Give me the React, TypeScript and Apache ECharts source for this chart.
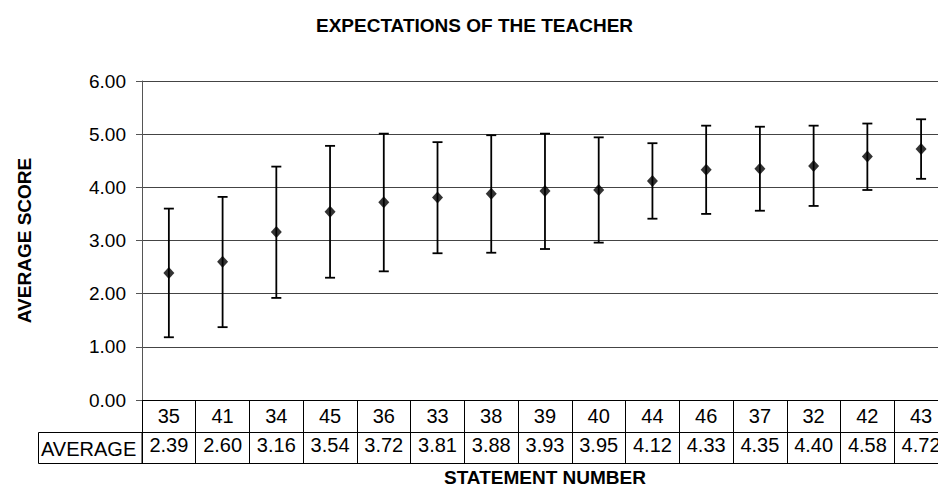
import React, { useEffect, useRef } from "react";
import * as echarts from "echarts";

const title = "EXPECTATIONS OF THE TEACHER";
const yTitle = "AVERAGE SCORE";
const xTitle = "STATEMENT NUMBER";
const rowHeader = "AVERAGE";
const categories = ["35", "41", "34", "45", "36", "33", "38", "39", "40", "44", "46", "37", "32", "42", "43"];
const averages = [2.39, 2.6, 3.16, 3.54, 3.72, 3.81, 3.88, 3.93, 3.95, 4.12, 4.33, 4.35, 4.4, 4.58, 4.72];
const upper = [3.6, 3.82, 4.39, 4.78, 5.01, 4.85, 4.98, 5.01, 4.94, 4.83, 5.16, 5.14, 5.16, 5.2, 5.28];
const lower = [1.18, 1.37, 1.92, 2.3, 2.42, 2.76, 2.77, 2.84, 2.96, 3.41, 3.5, 3.56, 3.65, 3.95, 4.16];

const FONT = "'Liberation Sans', Arial, sans-serif";
const GRID_LEFT = 142;
const GRID_TOP = 81;
const GRID_H = 319;
const CAT_W = 53.73;
const ROW1 = 32;
const ROW2 = 31;

export default function App() {
  const ref = useRef<HTMLDivElement>(null);
  useEffect(() => {
    if (!ref.current) return;
    document.body.style.margin = "0";
    document.body.style.overflow = "hidden";
    const chart = echarts.init(ref.current, null, { renderer: "svg" });
    const axisBottom = GRID_TOP + GRID_H;
    const option: any = {
      animation: false,
      backgroundColor: "#fff",
      title: {
        text: title,
        left: 316,
        top: 16,
        padding: 0,
        textStyle: { fontFamily: FONT, fontSize: 19, fontWeight: "bold", color: "#000", lineHeight: 19 },
      },
      grid: {
        left: GRID_LEFT,
        top: GRID_TOP,
        width: CAT_W * categories.length,
        height: GRID_H,
        containLabel: false,
        outerBoundsMode: "none",
      },
      xAxis: [
        {
          type: "category",
          data: categories,
          position: "bottom",
          axisLine: { show: true, lineStyle: { color: "#000", width: 1 } },
          axisTick: { show: true, length: ROW1, lineStyle: { color: "#000" } },
          axisLabel: { fontFamily: FONT, fontSize: 20, lineHeight: 20, color: "#000", margin: 6, interval: 0 },
          splitLine: { show: false },
        },
        {
          type: "category",
          data: categories,
          position: "bottom",
          offset: ROW1,
          axisLine: { show: true, lineStyle: { color: "#000", width: 1 } },
          axisTick: { show: true, length: ROW2, lineStyle: { color: "#000" } },
          axisLabel: {
            fontFamily: FONT,
            fontSize: 20,
            lineHeight: 20,
            color: "#000",
            margin: 3,
            interval: 0,
            formatter: (_v: string, i: number) => averages[i].toFixed(2),
          },
          splitLine: { show: false },
        },
        {
          type: "category",
          data: categories,
          position: "bottom",
          offset: ROW1 + ROW2,
          axisLine: { show: true, lineStyle: { color: "#000", width: 1 } },
          axisTick: { show: false },
          axisLabel: { show: false },
          splitLine: { show: false },
          name: xTitle,
          nameLocation: "middle",
          nameGap: 5,
          nameTextStyle: { fontFamily: FONT, fontSize: 19, fontWeight: "bold", color: "#000", lineHeight: 19, verticalAlign: "top" },
        },
      ],
      yAxis: {
        type: "value",
        min: 0,
        max: 6,
        interval: 1,
        axisLine: { show: true, lineStyle: { color: "#555" } },
        axisTick: { show: true, length: 6, lineStyle: { color: "#555" } },
        axisLabel: {
          fontFamily: FONT,
          fontSize: 19,
          color: "#000",
          margin: 16,
          formatter: (v: number) => v.toFixed(2),
        },
        splitLine: { show: true, lineStyle: { color: "#444", width: 1 } },
        name: yTitle,
        nameLocation: "middle",
        nameRotate: 90,
        nameGap: 108,
        nameTextStyle: { fontFamily: FONT, fontSize: 19, fontWeight: "bold", color: "#000" },
      },
      graphic: [
        {
          type: "rect",
          shape: { x: 38.5, y: axisBottom + ROW1 + 0.5, width: GRID_LEFT - 38.5, height: ROW2 },
          style: { fill: "none", stroke: "#000", lineWidth: 1 },
        },
        {
          type: "text",
          x: 41,
          y: axisBottom + ROW1 + ROW2 / 2 + 1,
          style: { text: rowHeader, fontFamily: FONT, fontSize: 20, fill: "#000", align: "left", verticalAlign: "middle" },
        },
      ],
      series: [
        {
          type: "custom",
          xAxisIndex: 0,
          data: categories.map((_c, i) => [i, lower[i], upper[i]]),
          renderItem: (_params: any, api: any) => {
            const lo = api.coord([api.value(0), api.value(1)]);
            const hi = api.coord([api.value(0), api.value(2)]);
            const half = 5;
            const style = { stroke: "#000", lineWidth: 1.8 };
            return {
              type: "group",
              children: [
                { type: "line", shape: { x1: lo[0], y1: lo[1], x2: hi[0], y2: hi[1] }, style },
                { type: "line", shape: { x1: hi[0] - half, y1: hi[1], x2: hi[0] + half, y2: hi[1] }, style },
                { type: "line", shape: { x1: lo[0] - half, y1: lo[1], x2: lo[0] + half, y2: lo[1] }, style },
              ],
            };
          },
          z: 3,
        },
        {
          type: "scatter",
          xAxisIndex: 0,
          data: averages,
          symbol: "diamond",
          symbolSize: [11, 12],
          itemStyle: { color: "#000" },
          z: 4,
        },
      ],
    };
    chart.setOption(option);
    return () => chart.dispose();
  }, []);
  return (
    <div style={{ position: "fixed", left: 0, top: 0, width: 938, height: 487, overflow: "hidden", background: "#fff" }}>
      <div ref={ref} style={{ width: 938, height: 487, overflow: "hidden" }} />
    </div>
  );
}
